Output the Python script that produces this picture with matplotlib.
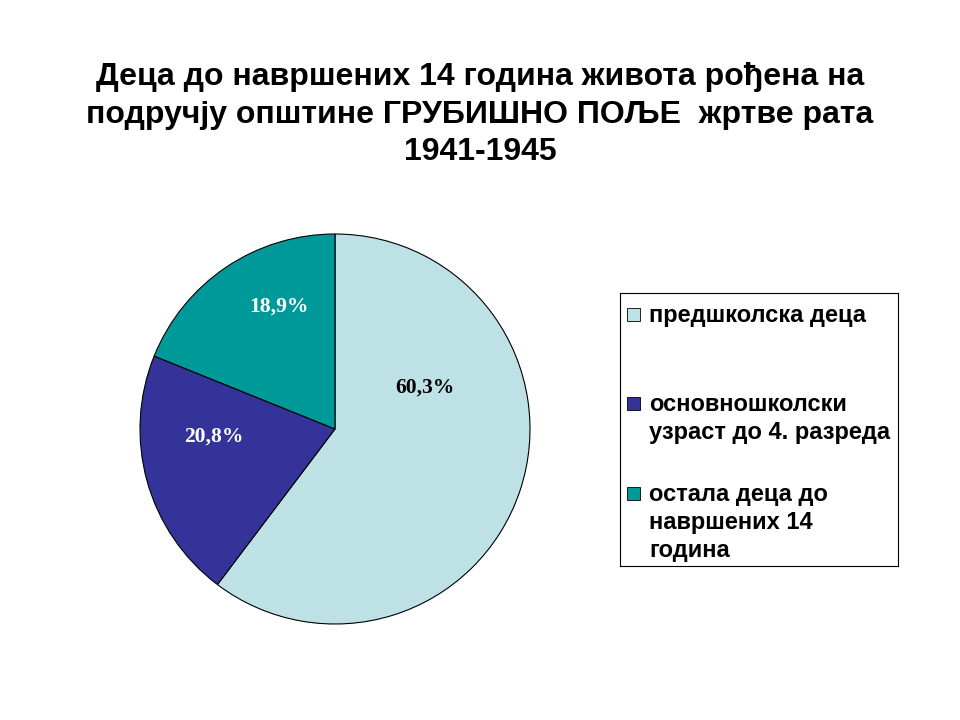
import matplotlib
matplotlib.use("Agg")
import matplotlib.pyplot as plt
from matplotlib.patches import Rectangle

plt.rcParams['font.family'] = ['Liberation Sans', 'DejaVu Sans']

# data
labels = ["предшколска деца",
          "основношколски\nузраст до 4. разреда",
          "остала деца до\nнавршених 14\nгодина"]
shares = [60.3, 20.8, 18.9]
pct_text = ["60,3%", "20,8%", "18,9%"]
colors = ["#bde1e4", "#333399", "#009999"]
pct_colors = ["black", "white", "white"]

title = ("Деца до навршених 14 година живота рођена на\n"
         "подручју општине ГРУБИШНО ПОЉЕ  жртве рата\n"
         "1941-1945")

W, H = 960, 720
fig = plt.figure(figsize=(W / 100, H / 100), dpi=100)

fig.text(0.5, 1 - 62 / H, title, ha='center', va='top', fontsize=23,
         fontweight='bold', linespacing=1.33)

# pie in a square framed box
ax = fig.add_axes([140 / W, 1 - 624 / H, 390 / W, 390 / H])
wedges, _ = ax.pie(shares, colors=colors, startangle=90, counterclock=False,
                   radius=1.0, wedgeprops=dict(edgecolor='black', linewidth=0.8))
ax.set_xlim(-1, 1)
ax.set_ylim(-1, 1)
ax.set_xticks([])
ax.set_yticks([])
for sp in ax.spines.values():
    sp.set_visible(True)
    sp.set_linewidth(0.8)
    sp.set_color('black')

# percentage labels positioned in each wedge
label_pos = [(0.46, 0.21), (-0.62, -0.04), (-0.29, 0.63)]
for (x, y), t, c in zip(label_pos, pct_text, pct_colors):
    ax.text(x, y, t, ha='center', va='center', fontsize=15.5, fontweight='bold',
            family=['Liberation Serif', 'DejaVu Serif'], color=c)

# legend box drawn by hand in pixel coordinates
lx0, lx1, ly0, ly1 = 620, 898, 293, 566
lax = fig.add_axes([lx0 / W, 1 - ly1 / H, (lx1 - lx0) / W, (ly1 - ly0) / H])
lax.set_xlim(lx0, lx1)
lax.set_ylim(ly1, ly0)
lax.set_xticks([])
lax.set_yticks([])
for sp in lax.spines.values():
    sp.set_linewidth(0.8)
    sp.set_color('black')

entry_top = [308, 397, 487]
for top, lab, col in zip(entry_top, labels, colors):
    lax.add_patch(Rectangle((627, top), 13, 13, facecolor=col,
                            edgecolor='black', linewidth=0.6))
    lax.text(649, top - 4, lab, ha='left', va='top', fontsize=17,
             fontweight='bold', linespacing=1.28)

fig.savefig("out.png", dpi=100, facecolor='white')
